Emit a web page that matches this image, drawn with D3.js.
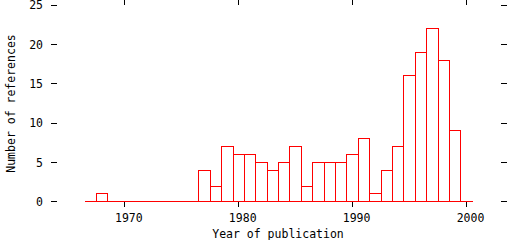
<!DOCTYPE html>
<html>
<head>
<meta charset="utf-8">
<script src="https://cdn.jsdelivr.net/npm/d3@7"></script>
<style>
  body { margin: 0; background: #fff; }
  svg { display: block; }
  .axis text { font-family: "DejaVu Sans Mono", monospace; font-size: 11.5px; fill: #000; }
  .axis line { stroke: #000; }
</style>
</head>
<body>
<div id="chart"></div>
<script>
// references per year of publication
const years = [1967, 1968, 1969, 1970, 1971, 1972, 1973, 1974, 1975, 1976,
               1977, 1978, 1979, 1980, 1981, 1982, 1983, 1984, 1985, 1986,
               1987, 1988, 1989, 1990, 1991, 1992, 1993, 1994, 1995, 1996,
               1997, 1998, 1999, 2000];
const counts = [0, 1, 0, 0, 0, 0, 0, 0, 0, 0,
                4, 2, 7, 6, 6, 5, 4, 5, 7, 2,
                5, 5, 5, 6, 8, 1, 4, 7, 16, 19,
                22, 18, 9, 0];
const xTicks = [1970, 1980, 1990, 2000];
const yTicks = [0, 5, 10, 15, 20, 25];

const width = 512, height = 240;
const svg = d3.select("#chart").append("svg")
    .attr("width", width)
    .attr("height", height);

const x = d3.scaleLinear().domain([1970, 2000]).range([124.3, 466]);
const y = d3.scaleLinear().domain([0, 25]).range([201.3, 4.5]);
const px = v => Math.round(v) + 0.5;

const data = years.map((yr, i) => ({year: yr, n: counts[i]}));

// axes (ticks only, no domain line)
const axisLeftG = svg.append("g").attr("class", "axis")
    .attr("transform", "translate(57,0)")
    .call(d3.axisLeft(y).tickValues(yTicks).tickSize(6).tickPadding(8));
svg.append("g").attr("class", "axis")
    .attr("transform", "translate(501,0)")
    .call(d3.axisRight(y).tickValues(yTicks).tickSize(6).tickFormat(""));
const axisBottomG = svg.append("g").attr("class", "axis")
    .attr("transform", "translate(0,201)")
    .call(d3.axisBottom(x).tickValues(xTicks).tickSize(6).tickFormat(d3.format("d")));
svg.append("g").attr("class", "axis")
    .attr("transform", "translate(0,5)")
    .call(d3.axisTop(x).tickValues(xTicks).tickSize(6).tickFormat(""));

svg.selectAll(".axis .domain").remove();
svg.selectAll(".axis line").attr("shape-rendering", "crispEdges");
axisBottomG.selectAll("text").attr("y", 17).attr("dx", 4).attr("dy", "0.32em");
axisLeftG.selectAll("text").attr("dy", "0.36em");

// histogram bars
svg.append("line")
    .attr("x1", px(x(1966.5))).attr("x2", px(x(2000.5)))
    .attr("y1", px(y(0))).attr("y2", px(y(0)))
    .attr("stroke", "#ff0000")
    .attr("shape-rendering", "crispEdges");

svg.append("g")
    .selectAll("rect")
    .data(data.filter(d => d.n > 0))
    .enter().append("rect")
    .attr("x", d => px(x(d.year - 0.5)))
    .attr("y", d => px(y(d.n)))
    .attr("width", d => px(x(d.year + 0.5)) - px(x(d.year - 0.5)))
    .attr("height", d => px(y(0)) - px(y(d.n)))
    .attr("fill", "none")
    .attr("stroke", "#ff0000")
    .attr("shape-rendering", "crispEdges");

// axis titles
svg.append("text")
    .attr("x", 278).attr("y", 234)
    .attr("dy", "0.32em")
    .attr("text-anchor", "middle")
    .style("font-family", "'DejaVu Sans Mono', monospace")
    .style("font-size", "11.5px")
    .text("Year of publication");

svg.append("text")
    .attr("transform", "translate(11,103.5) rotate(-90)")
    .attr("dy", "0.32em")
    .attr("text-anchor", "middle")
    .style("font-family", "'DejaVu Sans Mono', monospace")
    .style("font-size", "11.5px")
    .text("Number of references");
</script>
</body>
</html>
